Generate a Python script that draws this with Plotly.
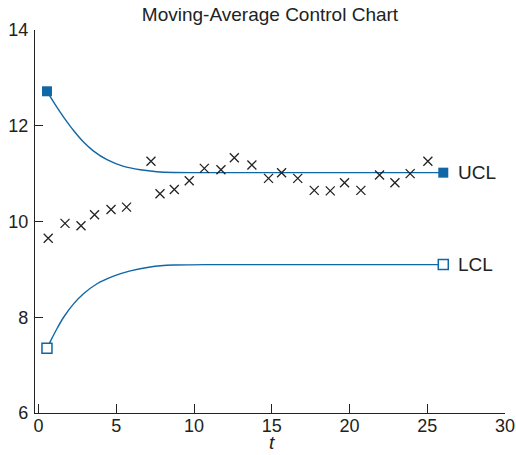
import plotly.graph_objects as go

# Observed moving-average points
t_obs = [0.62, 1.70, 2.73, 3.60, 4.66, 5.66, 7.23, 7.81, 8.73, 9.69, 10.66, 11.73, 12.59,
         13.72, 14.79, 15.63, 16.67, 17.73, 18.76, 19.68, 20.73, 21.93, 22.92, 23.90, 25.04]
ma_obs = [9.65, 9.96, 9.91, 10.14, 10.25, 10.30, 11.26, 10.58, 10.67, 10.85, 11.11, 11.08, 11.33,
          11.18, 10.90, 11.02, 10.90, 10.65, 10.64, 10.81, 10.65, 10.97, 10.81, 11.00, 11.26]

# Control limit curves
t_ucl = [0.54, 0.96, 1.40, 1.83, 2.25, 2.89, 3.54, 4.40, 5.47, 6.54, 7.61, 8.68, 10.8, 26.03]
ucl = [12.72, 12.50, 12.28, 12.08, 11.90, 11.66, 11.47, 11.29, 11.15, 11.08, 11.04, 11.025, 11.02, 11.02]
t_lcl = [0.54, 0.75, 1.18, 1.61, 2.25, 2.89, 3.76, 4.82, 5.90, 7.18, 8.68, 10.83, 26.03]
lcl = [7.35, 7.49, 7.76, 8.00, 8.28, 8.49, 8.70, 8.86, 8.97, 9.05, 9.09, 9.10, 9.10]

x_ticks = [0, 5, 10, 15, 20, 25, 30]
y_ticks = [6, 8, 10, 12, 14]

BLUE = "#0f67a6"
INK = "#222222"
FONT = "Liberation Sans, Arial, sans-serif"

fig = go.Figure()
for tx, ty in [(t_ucl, ucl), (t_lcl, lcl)]:
    fig.add_trace(go.Scatter(x=tx, y=ty, mode="lines",
                             line=dict(color=BLUE, width=1.4, shape="spline", smoothing=0.6),
                             showlegend=False, hoverinfo="skip"))
fig.add_trace(go.Scatter(x=[t_ucl[0], t_ucl[-1]], y=[ucl[0], ucl[-1]], mode="markers",
                         marker=dict(symbol="square", size=10, color=BLUE, line=dict(width=0)),
                         showlegend=False))
fig.add_trace(go.Scatter(x=[t_lcl[0], t_lcl[-1]], y=[lcl[0], lcl[-1]], mode="markers",
                         marker=dict(symbol="square", size=10, color="white", line=dict(color=BLUE, width=1.5)),
                         showlegend=False))
fig.add_trace(go.Scatter(x=t_obs, y=ma_obs, mode="markers",
                         marker=dict(symbol="x-thin", size=9, color=INK, line=dict(color=INK, width=1.3)),
                         showlegend=False))

for name, tx, ty in [("UCL", t_ucl[-1], ucl[-1]), ("LCL", t_lcl[-1], lcl[-1])]:
    fig.add_annotation(x=tx, y=ty, text=name, showarrow=False, xanchor="left", yanchor="middle",
                       xshift=13, font=dict(family=FONT, size=19, color=INK))

# x-axis title as annotation below the tick labels
fig.add_annotation(x=15, xref="x", y=0, yref="paper", yshift=-29, yanchor="middle", text="<i>t</i>",
                   showarrow=False, font=dict(family=FONT, size=19, color=INK))

fig.update_layout(
    width=516, height=455,
    margin=dict(l=35, r=11, t=30, b=42),
    paper_bgcolor="white", plot_bgcolor="white",
    title=dict(text="Moving-Average Control Chart", x=0.5, xref="paper", xanchor="center",
               y=0.968, yref="container", yanchor="middle",
               font=dict(family=FONT, size=19, color=INK)),
    font=dict(family=FONT, size=18, color=INK),
    xaxis=dict(range=[-0.23, 30], tickvals=x_ticks, ticks="inside", ticklen=9, tickwidth=1.2,
               tickcolor=INK, showline=True, linecolor=INK, linewidth=1.3, showgrid=False,
               zeroline=False, tickfont=dict(size=18), mirror=False, automargin=False,
               ticklabelstandoff=-4),
    yaxis=dict(range=[6, 14], tickvals=y_ticks, ticks="inside", ticklen=8, tickwidth=1.2,
               tickcolor=INK, showline=True, linecolor=INK, linewidth=1.3, showgrid=False,
               zeroline=False, tickfont=dict(size=18), mirror=False, automargin=False,
               ticklabelstandoff=2),
)

# remove the default page margin so the figure fills the window exactly
fig.write_html("out.html", config={"displayModeBar": False},
               post_script="document.body.style.margin='0';")
